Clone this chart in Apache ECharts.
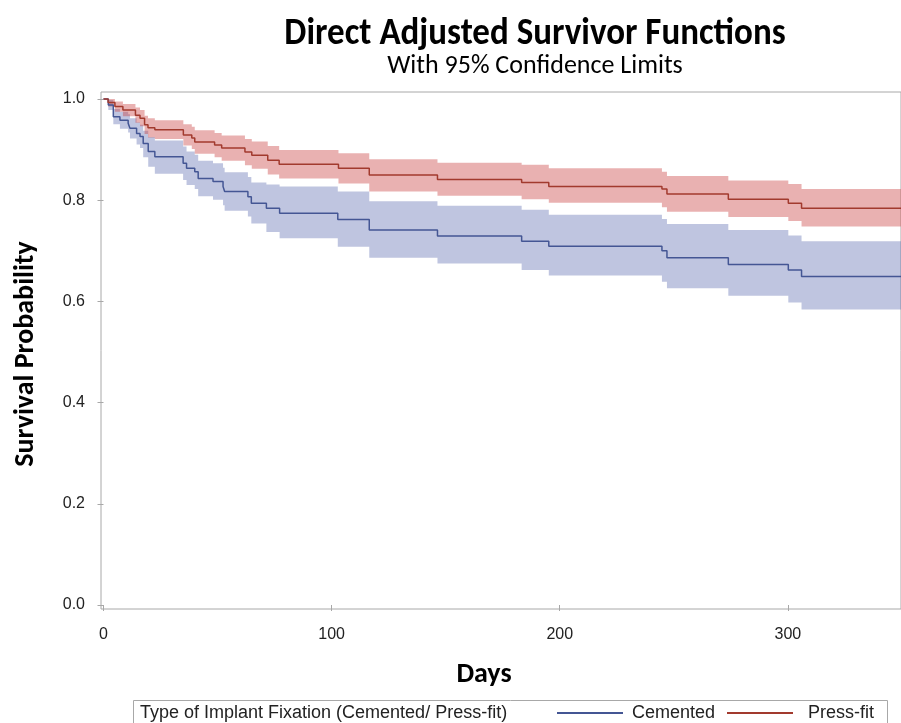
<!DOCTYPE html>
<html><head><meta charset="utf-8">
<script src="https://cdn.jsdelivr.net/npm/echarts@6/dist/echarts.min.js"></script>
<style>html,body{margin:0;padding:0;background:#fff}#c{width:901px;height:723px}</style>
</head><body><div id="c"></div>
<script>
// ---- data ----
const xTickValues = [0, 100, 200, 300];
const yTickValues = [0, 0.2, 0.4, 0.6, 0.8, 1.0];

const cementedDays  = [0, 2.1, 4.3, 7.2, 10.8, 11.6, 14.5, 16, 17.4, 19.6, 22.5, 34.9, 36.4, 40, 41.5, 48, 52.4, 53.1, 63.3, 64.8, 71.4, 77.2, 102.7, 116.5, 146.4, 183.3, 195.2, 244.8, 247, 273.9, 300.2, 306, 350];
const cementedSurv  = [1.0, 0.988, 0.965, 0.958, 0.952, 0.942, 0.932, 0.926, 0.912, 0.896, 0.886, 0.873, 0.863, 0.856, 0.843, 0.837, 0.827, 0.817, 0.807, 0.794, 0.784, 0.774, 0.762, 0.741, 0.729, 0.719, 0.709, 0.700, 0.686, 0.673, 0.662, 0.649, 0.649];
const cementedLower = [1.0, 0.978, 0.950, 0.941, 0.934, 0.922, 0.910, 0.903, 0.885, 0.866, 0.852, 0.840, 0.830, 0.822, 0.808, 0.801, 0.790, 0.779, 0.768, 0.754, 0.737, 0.725, 0.708, 0.686, 0.675, 0.662, 0.651, 0.639, 0.626, 0.611, 0.598, 0.584, 0.584];
const cementedUpper = [1.0, 0.998, 0.980, 0.975, 0.970, 0.962, 0.954, 0.949, 0.937, 0.925, 0.918, 0.906, 0.896, 0.890, 0.878, 0.873, 0.864, 0.855, 0.846, 0.835, 0.831, 0.827, 0.817, 0.798, 0.789, 0.781, 0.771, 0.763, 0.753, 0.741, 0.730, 0.719, 0.719];

const pressDays  = [0, 2, 5, 8.5, 14, 16, 18, 19.5, 22.5, 35, 38.7, 40, 48.7, 51.8, 62, 65, 72, 77, 103, 116.5, 146.4, 183.3, 195.2, 244.8, 247, 273.9, 300.2, 306, 350];
const pressSurv  = [1.0, 0.993, 0.985, 0.978, 0.968, 0.962, 0.949, 0.943, 0.939, 0.929, 0.923, 0.915, 0.909, 0.903, 0.895, 0.889, 0.879, 0.871, 0.863, 0.850, 0.841, 0.835, 0.827, 0.822, 0.812, 0.802, 0.794, 0.784, 0.784];
const pressLower = [1.0, 0.985, 0.975, 0.966, 0.953, 0.946, 0.931, 0.924, 0.921, 0.908, 0.901, 0.892, 0.885, 0.878, 0.869, 0.862, 0.851, 0.843, 0.833, 0.817, 0.809, 0.802, 0.795, 0.786, 0.777, 0.767, 0.759, 0.748, 0.748];
const pressUpper = [1.0, 1.0, 0.995, 0.990, 0.983, 0.978, 0.967, 0.962, 0.958, 0.950, 0.945, 0.938, 0.933, 0.928, 0.921, 0.916, 0.907, 0.899, 0.893, 0.881, 0.874, 0.870, 0.863, 0.856, 0.848, 0.839, 0.832, 0.822, 0.822];

const groupNames = ['Cemented', 'Press-fit'];
const legendTitle = 'Type of Implant Fixation (Cemented/ Press-fit)';

// ---- styles ----
const blueLine = '#445694', redLine = '#A23A2E';
const blueBand = 'rgba(60,80,160,0.33)', redBand = 'rgba(200,60,60,0.40)';
const tickFont = 'Liberation Sans, Arial, sans-serif';
const headFont = 'Carlito, Lato, sans-serif';

function pairs(xs, ys) { return xs.map((x, i) => [x, ys[i]]); }

// step-shaped confidence band drawn as one polygon through the axis scales
function bandSeries(name, days, lo, hi, color) {
  return {
    type: 'custom', name: name, silent: true, z: 1, clip: true,
    data: [[days[0], hi[0]]],
    renderItem: function (params, api) {
      const pts = [];
      const n = days.length;
      for (let i = 0; i < n; i++) {
        const x1 = i + 1 < n ? days[i + 1] : days[i];
        pts.push(api.coord([days[i], hi[i]]), api.coord([x1, hi[i]]));
      }
      for (let i = n - 1; i >= 0; i--) {
        const x1 = i + 1 < n ? days[i + 1] : days[i];
        pts.push(api.coord([x1, lo[i]]), api.coord([days[i], lo[i]]));
      }
      return { type: 'polygon', shape: { points: pts }, style: { fill: color, stroke: null } };
    }
  };
}

const chart = echarts.init(document.getElementById('c'), null, { renderer: 'canvas' });
chart.setOption({
  animation: false,
  backgroundColor: '#fff',
  grid: { left: 101, top: 92, right: -2, bottom: 114, show: true, borderColor: '#A8A8A8', borderWidth: 1, backgroundColor: 'transparent' },
  xAxis: {
    type: 'value', min: -1.1, max: 349.6,
    axisLine: { show: false },
    splitLine: { show: false },
    axisTick: { show: true, inside: false, length: 6, lineStyle: { color: '#A8A8A8' }, customValues: xTickValues },
    axisLabel: { show: true, margin: 18, color: '#222', fontFamily: tickFont, fontSize: 16, customValues: xTickValues, formatter: v => String(v) }
  },
  yAxis: {
    type: 'value', min: -0.0079, max: 1.0138,
    axisLine: { show: false },
    splitLine: { show: false },
    axisTick: { show: true, inside: false, length: 6, lineStyle: { color: '#A8A8A8' }, customValues: yTickValues },
    axisLabel: { show: true, margin: 16, color: '#222', fontFamily: tickFont, fontSize: 16, customValues: yTickValues, formatter: v => v.toFixed(1) }
  },
  legend: [
    { data: [groupNames[0]], left: 557, top: 703, padding: 0, icon: 'rect', itemWidth: 66, itemHeight: 2, selectedMode: false,
      textStyle: { fontFamily: tickFont, fontSize: 18, color: '#222', lineHeight: 20, padding: [0, 0, 0, 4] } },
    { data: [groupNames[1]], left: 727, top: 703, padding: 0, icon: 'rect', itemWidth: 66, itemHeight: 2, selectedMode: false,
      textStyle: { fontFamily: tickFont, fontSize: 18, color: '#222', lineHeight: 20, padding: [0, 0, 0, 10] } }
  ],
  series: [
    bandSeries('Cemented band', cementedDays, cementedLower, cementedUpper, blueBand),
    bandSeries('Press-fit band', pressDays, pressLower, pressUpper, redBand),
    { name: groupNames[0], type: 'line', step: 'end', symbol: 'none', data: pairs(cementedDays, cementedSurv),
      lineStyle: { color: blueLine, width: 1.5 }, itemStyle: { color: blueLine }, z: 3 },
    { name: groupNames[1], type: 'line', step: 'end', symbol: 'none', data: pairs(pressDays, pressSurv),
      lineStyle: { color: redLine, width: 1.5 }, itemStyle: { color: redLine }, z: 3 }
  ],
  graphic: [
    { type: 'text', x: 535, y: 34, scaleY: 1.12, style: { text: 'Direct Adjusted Survivor Functions', fontFamily: headFont, fontWeight: 'bold', fontSize: 35, fill: '#000', align: 'center', verticalAlign: 'middle' } },
    { type: 'text', x: 535, y: 66, style: { text: 'With 95% Confidence Limits', fontFamily: headFont, fontSize: 26, fill: '#000', align: 'center', verticalAlign: 'middle' } },
    { type: 'text', x: 26, y: 354, rotation: Math.PI / 2, style: { text: 'Survival Probability', fontFamily: headFont, fontWeight: 'bold', fontSize: 28, fill: '#000', align: 'center', verticalAlign: 'middle' } },
    { type: 'text', x: 484, y: 675, style: { text: 'Days', fontFamily: headFont, fontWeight: 'bold', fontSize: 28, fill: '#000', align: 'center', verticalAlign: 'middle' } },
    { type: 'rect', shape: { x: 133.5, y: 700.5, width: 754, height: 30 }, style: { fill: 'none', stroke: '#A8A8A8', lineWidth: 1 }, silent: true },
    { type: 'text', x: 140, y: 713, style: { text: legendTitle, fontFamily: tickFont, fontSize: 18, fill: '#222', align: 'left', verticalAlign: 'middle' } }
  ]
});
</script>
</body></html>
